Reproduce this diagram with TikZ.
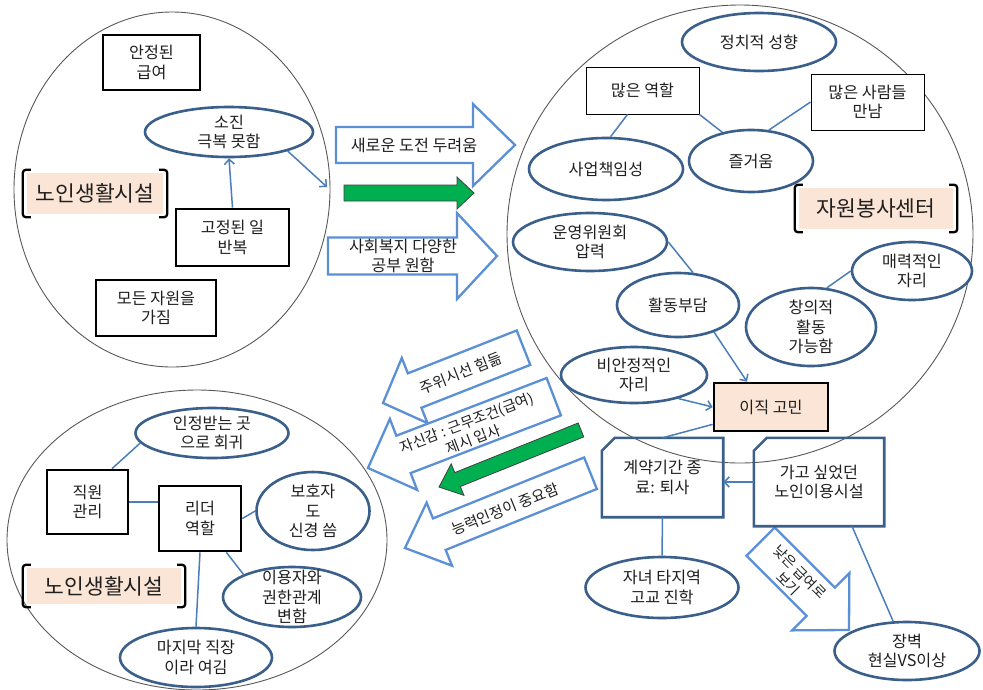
\documentclass[tikz,border=0pt]{standalone}
\usepackage{fontspec}
\setmainfont{Noto Sans CJK KR}
\usetikzlibrary{shapes.geometric,arrows.meta,calc}
\definecolor{ellc}{HTML}{3A5F8B}
\definecolor{conc}{HTML}{4A7EBB}
\definecolor{arrc}{HTML}{5B8FD6}
\definecolor{grn}{HTML}{00B050}
\definecolor{peach}{HTML}{FBE5D6}
\definecolor{circc}{HTML}{595959}
\definecolor{txtc}{HTML}{1F1F1F}
\newcommand{\blockarr}[8]{%
  \begin{scope}[shift={(#2,#3)},rotate=#4]
    \draw[#1] (0,0) -- (-#8,{-#7/2}) -- (-#8,{-#6/2}) -- (-#5,{-#6/2})
      -- (-#5,{#6/2}) -- (-#8,{#6/2}) -- (-#8,{#7/2}) -- cycle;
  \end{scope}}
\begin{document}
\begin{tikzpicture}[x=1pt,y=-1pt,
  every node/.style={font=\fontsize{16.2}{19.5}\selectfont, text=txtc, align=center, inner sep=1pt},
  rtxt/.style={font=\fontsize{15}{18.5}\selectfont},
  sz/.style 2 args={minimum width=#1pt, minimum height=#2pt},
  lt/.style={label={center:{#1}}},
  ell/.style={ellipse, draw=ellc, line width=2.6pt, fill=white},
  tbox/.style={rectangle, draw=black, line width=2.7pt, fill=white},
  thbox/.style={rectangle, draw=black, line width=0.9pt, fill=white},
  bigc/.style={ellipse, draw=circc, line width=0.9pt},
  conn/.style={draw=conc, line width=1.5pt},
  arr/.style={conn, -{Straight Barb[length=5pt,width=10pt]}},
  snipnode/.style={rectangle, draw=none},
  snipline/.style={draw=ellc, line width=2.6pt},
  barr/.style={draw=arrc, line width=2.3pt, fill=white},
  garr/.style={draw=black!75, line width=0.8pt, fill=grn},
  lab/.style={rectangle, fill=peach, font=\fontsize{21.5}{25}\selectfont},
  brk/.style={draw=black, line width=2.3pt, rounded corners=3pt},
]
\useasboundingbox (0,0) rectangle (983,689);
\fill[white] (0,0) rectangle (983,689);

% big regions
\node[bigc, sz={316}{355}] (regTL) at (172,189.5) {};
\node[bigc, sz={466}{458}] (regR) at (740,234) {};
\node[bigc, sz={380}{300}] (regBL) at (197,540) {};

% block arrows
\blockarr{barr}{515}{145}{0}{179}{36}{82}{42}
\node (tA) at (414,145) {새로운 도전 두려움};
\blockarr{garr}{474}{193}{0}{130}{16}{32}{17}
\blockarr{barr}{497}{256}{0}{169}{37}{86}{40}
\node (tB) at (403,256) {사회복지 다양한\\공부 원함};

\blockarr{barr}{383}{403}{201.5}{151}{37}{70}{34}
\node[rtxt, rotate=21.5] (tC) at (461,373) {주위시선 힘듦};
\blockarr{barr}{368}{468}{201}{199}{40}{76}{38}
\node[rtxt, rotate=21, font=\fontsize{14.5}{18}\selectfont] (tD) at (470,431) {자신감 : 근무조건(급여)\\제시 입사};
\blockarr{garr}{439}{487}{201.9}{153}{15}{34}{20}
\blockarr{barr}{405}{548}{201.96}{200}{34}{68}{37}
\node[rtxt, rotate=21.96] (tE) at (505,509) {능력인정이 중요함};
\blockarr{barr}{849}{630}{-45}{125}{40}{81}{40}
\node[rotate=-45, font=\fontsize{14}{17}\selectfont] (tF) at (794,578) {낮은 급여로\\보기};

% top-left region
\node[tbox, sz={97}{55}] (salary) at (151.5,62.5) {안정된\\급여};
\node[ell, sz={168}{50}, lt={소진\\극복 못함}] (sojin) at (229,132) {};
\node[lab, sz={136}{41}] (lab1) at (95,193.5) {노인생활시설};
\node[tbox, sz={113}{57}] (gojeong) at (232.5,237.5) {고정된 일\\반복};
\node[tbox, sz={120}{56}] (modeun) at (156,308) {모든 자원을\\가짐};
\coordinate (tlout) at (327,187);
\draw[arr] (gojeong.north) -- (sojin.south);
\draw[arr] (sojin.-18) -- (tlout);

% right region
\node[ell, sz={154}{58}, lt={정치적 성향}] (jeongchi) at (759,42) {};
\node[thbox, sz={113}{47}] (roles) at (642.5,90.5) {많은 역할};
\node[thbox, sz={113}{56}] (people) at (867.5,102) {많은 사람들\\만남};
\node[ell, sz={154}{62}, lt={사업책임성}] (saeop) at (606,169) {};
\node[ell, sz={124}{62}, lt={즐거움}] (joy) at (751,161) {};
\node[lab, sz={154}{41}] (lab2) at (876,208.5) {자원봉사센터};
\node[ell, sz={154}{58}, lt={운영위원회\\압력}] (unyeong) at (590,242) {};
\node[ell, sz={122}{64}, lt={활동부담}] (burden) at (678,305) {};
\node[ell, sz={120}{58}, lt={매력적인\\자리}] (attract) at (912,271) {};
\node[ell, sz={130}{78}, lt={창의적\\활동\\가능함}] (creative) at (811,327) {};
\node[ell, sz={146}{56}, lt={비안정적인\\자리}] (unstable) at (634,375) {};
\node[tbox, fill=peach, sz={114}{48}] (ijik) at (771,407) {이직 고민};

\draw[conn] ($(roles.south)+(-15,0)$) -- (saeop.82);
\draw[conn] (roles.south east) -- (joy.135);
\draw[conn] (people.west) -- (joy.60);
\draw[conn] (unyeong.east) -- (burden.65);
\draw[arr] (burden.-37) -- ($(ijik.north)+(-24,0)$);
\draw[arr] (unstable.-28) -- (ijik.west);
\draw[conn] (creative.68) -- (attract.west);

% bottom-right
\node[snipnode, sz={121}{79}] (gyeyak) at (662.5,477.5) {계약기간 종\\료: 퇴사};
\node[snipnode, sz={130}{88}] (gago) at (819,482) {가고 싶었던\\노인이용시설};
\draw[snipline] ($(gyeyak.north west)+(13,0)$) -- (gyeyak.north east) -- (gyeyak.south east) -- (gyeyak.south west) -- ($(gyeyak.north west)+(0,13)$) -- cycle;
\draw[snipline] ($(gago.north west)+(13,0)$) -- (gago.north east) -- (gago.south east) -- (gago.south west) -- ($(gago.north west)+(0,13)$) -- cycle;
\node[ell, sz={153}{61}, lt={자녀 타지역\\고교 진학}] (child) at (662,587.5) {};
\node[ell, sz={145}{58}, lt={장벽\\현실VS이상}] (wall) at (907,651) {};
\draw[conn] ($(ijik.south west)+(0,-8)$) -- (gyeyak.north);
\draw[arr] (gago.west) -- (gago.west -| gyeyak.east);
\draw[conn] (gyeyak.south) -- (child.north);
\draw[conn] ($(gago.south)+(33,0)$) -- (wall.115);

% bottom-left region
\node[ell, sz={153}{50}, lt={인정받는 곳\\으로 회귀}] (recog) at (212,433) {};
\node[tbox, sz={81}{64}] (staff) at (87.5,502) {직원\\관리};
\node[tbox, sz={82}{65}] (leader) at (200,518.5) {리더\\역할};
\node[ell, sz={113}{78}, lt={보호자\\도\\신경 씀}] (guard) at (313,511) {};
\node[ell, sz={138}{60}, lt={이용자와\\권한관계\\변함}] (users) at (292,597) {};
\node[ell, sz={152}{59}, lt={마지막 직장\\이라 여김}] (last) at (196,657.5) {};
\node[lab, sz={154}{36}] (lab3) at (104,586) {노인생활시설};
\draw[conn] (recog.188) -- ($(staff.north)+(24.5,0)$);
\draw[conn] (staff.east) -- (staff.east -| leader.west);
\draw[conn] (leader.east) -- (guard.west);
\draw[conn] ($(leader.south east)+(-16,0)$) -- (users.155);
\draw[conn] (leader.south) -- (last.north);

% brackets
\foreach \L in {lab1,lab2,lab3}{
  \draw[brk] ($(\L.north west)+(4,-3)$) -- ($(\L.north west)+(-4,-3)$) -- ($(\L.south west)+(-4,3)$) -- ($(\L.south west)+(4,3)$);
  \draw[brk] ($(\L.north east)+(-4,-3)$) -- ($(\L.north east)+(4,-3)$) -- ($(\L.south east)+(4,3)$) -- ($(\L.south east)+(-4,3)$);
}
\end{tikzpicture}
\end{document}
